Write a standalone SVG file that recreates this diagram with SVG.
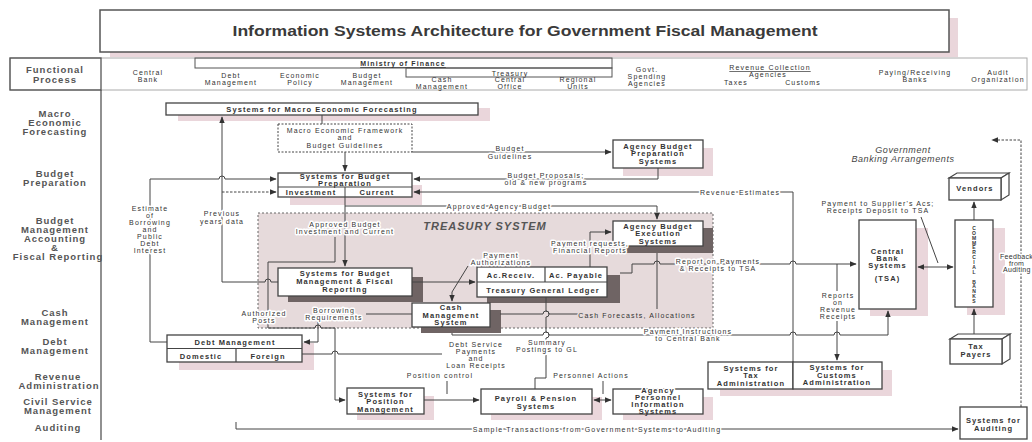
<svg xmlns="http://www.w3.org/2000/svg" width="1032" height="442" viewBox="0 0 1032 442">
<defs>
<marker id="ah" viewBox="0 0 10 10" refX="9" refY="5" markerWidth="7" markerHeight="7" markerUnits="userSpaceOnUse" orient="auto-start-reverse"><path d="M0,1 L10,5 L0,9 z" fill="#333"/></marker>
</defs>
<style>
.s{font-family:"Liberation Sans",Arial,sans-serif;font-size:7px;letter-spacing:1.15px;fill:#333;text-anchor:middle}
.b{font-family:"Liberation Sans",Arial,sans-serif;font-size:7.5px;font-weight:bold;letter-spacing:1.1px;fill:#333;text-anchor:middle}
.L{font-family:"Liberation Sans",Arial,sans-serif;font-size:9.5px;font-weight:bold;letter-spacing:1px;fill:#555;text-anchor:middle}
.k{stroke:#fff;stroke-width:3px;paint-order:stroke;stroke-linejoin:round}
.bx{fill:#fff;stroke:#444;stroke-width:1.3}
.pk{fill:#ead6db}
.dk{fill:#6f6464}
.c{fill:none;stroke:#444;stroke-width:1}
.a{marker-end:url(#ah)}
.ab{marker-start:url(#ah);marker-end:url(#ah)}
.d{stroke-dasharray:2.5 1.5}
.v{font-family:"Liberation Sans",Arial,sans-serif;font-size:5px;font-weight:bold;fill:#333;writing-mode:vertical-rl;text-orientation:upright}
</style>
<rect width="1032" height="442" fill="#fff"/>

<g id="title">
<rect x="110" y="18" width="848" height="39" class="pk"/>
<rect x="100" y="10" width="849" height="42" fill="#fff" stroke="#555" stroke-width="1.5"/>
<text x="525" y="36" font-family="Liberation Sans, Arial, sans-serif" font-size="14" font-weight="bold" fill="#3a3a3a" text-anchor="middle" textLength="585" lengthAdjust="spacingAndGlyphs">Information Systems Architecture for Government Fiscal  Management</text>
</g>

<g id="functional-row">
<rect x="10" y="58" width="1017" height="32" fill="none" stroke="#aaa" stroke-width="1"/>
<rect x="10" y="58" width="91" height="32" fill="none" stroke="#555" stroke-width="1.3"/>
<rect x="195" y="58" width="417" height="10" fill="none" stroke="#555" stroke-width="1"/>
<rect x="406" y="68" width="206" height="9" fill="none" stroke="#555" stroke-width="1"/>
<text class="L" x="55" y="73">Functional</text>
<text class="L" x="55" y="83">Process</text>
<text class="s" x="403" y="66" font-size="8.5" font-weight="bold" text-decoration="underline">Ministry of Finance</text>
<text class="s" x="510" y="75.5" font-size="8">Treasury</text>
<text class="s" x="148" y="75">Central</text><text class="s" x="148" y="82">Bank</text>
<text class="s" x="231" y="78">Debt</text><text class="s" x="231" y="85">Management</text>
<text class="s" x="300" y="78">Economic</text><text class="s" x="300" y="85">Policy</text>
<text class="s" x="367" y="78">Budget</text><text class="s" x="367" y="85">Management</text>
<text class="s" x="442" y="82">Cash</text><text class="s" x="442" y="89">Management</text>
<text class="s" x="510" y="82">Central</text><text class="s" x="510" y="89">Office</text>
<text class="s" x="578" y="82">Regional</text><text class="s" x="578" y="89">Units</text>
<text class="s" x="647" y="72">Govt.</text><text class="s" x="647" y="79">Spending</text><text class="s" x="647" y="86">Agencies</text>
<text class="s" x="770" y="70" text-decoration="underline">Revenue Collection</text>
<text class="s" x="768" y="77">Agencies</text>
<text class="s" x="736" y="85">Taxes</text><text class="s" x="803" y="85">Customs</text>
<text class="s" x="915" y="75">Paying/Receiving</text><text class="s" x="915" y="82">Banks</text>
<text class="s" x="998" y="75">Audit</text><text class="s" x="998" y="82">Organization</text>
</g>

<g id="row-labels">
<line x1="101" y1="90" x2="101" y2="440" stroke="#555" stroke-width="1.3"/>
<text class="L" x="55" y="116.5">Macro</text><text class="L" x="55" y="125.5">Economic</text><text class="L" x="55" y="134.5">Forecasting</text>
<text class="L" x="55" y="176.5">Budget</text><text class="L" x="55" y="185.5">Preparation</text>
<text class="L" x="55" y="224">Budget</text><text class="L" x="55" y="233">Management</text><text class="L" x="55" y="242">Accounting</text><text class="L" x="55" y="251">&amp;</text><text class="L" x="58" y="260">Fiscal Reporting</text>
<text class="L" x="55" y="315.5">Cash</text><text class="L" x="55" y="324.5">Management</text>
<text class="L" x="55" y="344.5">Debt</text><text class="L" x="55" y="353.5">Management</text>
<text class="L" x="58" y="380">Revenue</text><text class="L" x="59" y="389">Administration</text>
<text class="L" x="58" y="405">Civil Service</text><text class="L" x="58" y="414">Management</text>
<text class="L" x="58" y="430.5">Auditing</text>
</g>

<g id="treasury-system">
<rect x="258" y="213" width="455" height="115" fill="#e6dadb" stroke="#666" stroke-width="1" stroke-dasharray="2 2"/>
<text x="485" y="230" font-family="Liberation Sans, Arial, sans-serif" font-size="11" font-weight="bold" font-style="italic" letter-spacing="1" fill="#555" text-anchor="middle">TREASURY SYSTEM</text>
</g>

<g id="macro-forecasting">
<rect x="178" y="108" width="312" height="13" class="pk"/>
<rect x="166" y="103" width="312" height="12" class="bx"/>
<text class="b" x="322" y="112">Systems for Macro Economic Forecasting</text>
</g>

<g id="framework">
<rect x="278" y="124" width="134" height="28" fill="#fff" stroke="#444" stroke-width="1" stroke-dasharray="2 1.5"/>
<text class="s" x="345" y="132.5">Macro Economic Framework</text>
<text class="s" x="345" y="140">and</text>
<text class="s" x="345" y="147.5">Budget Guidelines</text>
</g>

<g id="budget-preparation">
<rect x="290" y="185" width="132" height="20" class="pk"/>
<rect x="278" y="173" width="134" height="24" class="bx"/>
<line x1="278" y1="187" x2="412" y2="187" stroke="#444"/>
<line x1="345" y1="187" x2="345" y2="197" stroke="#444"/>
<text class="b" x="345" y="179" font-size="6.5" letter-spacing="1.2">Systems for Budget</text>
<text class="b" x="345" y="186" font-size="6.5" letter-spacing="1.2">Preparation</text>
<text class="b" x="311" y="194.5" font-size="7">Investment</text>
<text class="b" x="377" y="194.5" font-size="7">Current</text>
</g>

<g id="agency-budget-prep">
<rect x="623" y="148" width="90" height="28" class="pk"/>
<rect x="613" y="140" width="90" height="28" class="bx"/>
<text class="b" x="658" y="148.5">Agency Budget</text>
<text class="b" x="658" y="156">Preparation</text>
<text class="b" x="658" y="163.5">Systems</text>
</g>

<g id="agency-budget-exec">
<rect x="623" y="228" width="90" height="25" class="dk"/>
<rect x="613" y="221" width="90" height="25" class="bx"/>
<text class="b" x="658" y="228.5">Agency Budget</text>
<text class="b" x="658" y="236">Execution</text>
<text class="b" x="658" y="243.5">Systems</text>
</g>

<g id="budget-management">
<rect x="288" y="277" width="135" height="25" class="dk"/>
<rect x="278" y="268" width="134" height="28" class="bx"/>
<text class="b" x="345" y="276">Systems for Budget</text>
<text class="b" x="345" y="284">Management &amp; Fiscal</text>
<text class="b" x="345" y="292">Reporting</text>
</g>

<g id="ledger">
<rect x="487" y="275" width="133" height="28" class="dk"/>
<rect x="477" y="267" width="130" height="30" class="bx"/>
<line x1="477" y1="282" x2="607" y2="282" stroke="#444" stroke-width="1.2"/>
<line x1="545" y1="267" x2="545" y2="282" stroke="#444" stroke-width="1.2"/>
<text class="b" x="511" y="278">Ac.Receiv.</text>
<text class="b" x="576" y="278">Ac. Payable</text>
<text class="b" x="543" y="293">Treasury General Ledger</text>
</g>

<g id="cash-management">
<rect x="421" y="310" width="80" height="23" class="dk"/>
<rect x="412" y="303" width="78" height="24" class="bx"/>
<text class="b" x="451" y="310">Cash</text>
<text class="b" x="451" y="317.5">Management</text>
<text class="b" x="451" y="325">System</text>
</g>

<g id="debt-management">
<rect x="179" y="343" width="135" height="27" class="pk"/>
<rect x="167" y="335" width="135" height="27" class="bx"/>
<line x1="167" y1="348.5" x2="302" y2="348.5" stroke="#444" stroke-width="1.2"/>
<line x1="236" y1="348.5" x2="236" y2="362" stroke="#444" stroke-width="1.2"/>
<text class="b" x="235" y="345">Debt Management</text>
<text class="b" x="201" y="358.5">Domestic</text>
<text class="b" x="268" y="358.5">Foreign</text>
</g>

<g id="position-management">
<rect x="357" y="396" width="77" height="24" class="pk"/>
<rect x="347" y="388" width="77" height="26" class="bx"/>
<text class="b" x="385.5" y="396.5">Systems for</text>
<text class="b" x="385.5" y="404">Position</text>
<text class="b" x="385.5" y="411.5">Management</text>
</g>

<g id="payroll">
<rect x="491" y="397" width="111" height="23" class="pk"/>
<rect x="481" y="389" width="111" height="25" class="bx"/>
<text class="b" x="536" y="401">Payroll &amp; Pension</text>
<text class="b" x="536" y="408.5">Systems</text>
</g>

<g id="agency-personnel">
<rect x="623" y="397" width="90" height="23" class="pk"/>
<rect x="613" y="389" width="90" height="25" class="bx"/>
<text class="b k" x="658" y="392.5">Agency</text>
<text class="b" x="658" y="399.5">Personnel</text>
<text class="b" x="658" y="406.5">Information</text>
<text class="b" x="658" y="413.5">Systems</text>
</g>

<g id="tax-customs">
<rect x="720" y="370" width="172" height="26" class="pk"/>
<rect x="708" y="362" width="85" height="27" class="bx"/>
<rect x="793" y="362" width="89" height="27" class="bx"/>
<text class="b" x="751" y="370.5">Systems for</text>
<text class="b" x="751" y="378">Tax</text>
<text class="b" x="751" y="385.5">Administration</text>
<text class="b" x="837" y="370">Systems for</text>
<text class="b" x="837" y="377.5">Customs</text>
<text class="b" x="837" y="385">Administration</text>
</g>

<g id="auditing">
<rect x="960" y="407" width="67" height="32" class="bx"/>
<text class="b" x="993.5" y="423">Systems for</text>
<text class="b" x="993.5" y="431">Auditing</text>
</g>

<g id="central-bank">
<rect x="870" y="228" width="58" height="88" class="pk"/>
<rect x="859" y="220" width="57" height="89" class="bx"/>
<text class="b" x="887.5" y="254">Central</text>
<text class="b" x="887.5" y="261">Bank</text>
<text class="b" x="887.5" y="268">Systems</text>
<text class="b" x="887.5" y="281">(TSA)</text>
</g>

<g id="commercial-banks">
<rect x="967" y="228" width="38" height="87" class="pk"/>
<rect x="955" y="220" width="38" height="87" class="bx"/>
<text class="v" x="974" y="225" textLength="79" lengthAdjust="spacing">COMMERCIAL BANKS</text>
</g>

<g id="vendors">
<polygon points="949,178 957,173 1009,173 1001,178" fill="#fff" stroke="#444" stroke-width="1.2"/>
<polygon points="1001,178 1009,173 1009,195 1001,200" fill="#fff" stroke="#444" stroke-width="1.2"/>
<rect x="949" y="178" width="52" height="22" class="bx"/>
<text class="b" x="975" y="191">Vendors</text>
</g>

<g id="tax-payers">
<polygon points="950,339 958,334 1010,334 1002,339" fill="#fff" stroke="#444" stroke-width="1.2"/>
<polygon points="1002,339 1010,334 1010,359 1002,364" fill="#fff" stroke="#444" stroke-width="1.2"/>
<rect x="950" y="339" width="52" height="25" class="bx"/>
<text class="b" x="976" y="348.5">Tax</text>
<text class="b" x="976" y="356.5">Payers</text>
</g>

<g id="banking-label">
<text x="903" y="153" font-family="Liberation Sans, Arial, sans-serif" font-size="9" font-style="italic" letter-spacing="0.6" fill="#444" text-anchor="middle">Government</text>
<text x="903" y="162" font-family="Liberation Sans, Arial, sans-serif" font-size="9" font-style="italic" letter-spacing="0.6" fill="#444" text-anchor="middle">Banking Arrangements</text>
</g>

<g id="connectors">
<path class="c" d="M322,115 V124"/>
<path class="c a" d="M345,152 V171"/>
<path class="c a" d="M412,152 H611"/>
<path class="c a" d="M658,168 V179 H414"/>
<path class="c a" d="M793,362 V192 H414"/>
<path class="c a" d="M345,197 V266"/>
<path class="c a" d="M345,206 H657 V219"/>
<path class="c a" d="M167,342 H150 V179 H219 a3,3 0 0 1 6,0 H276"/>
<path class="c a" d="M278,282 H271 a3,3 0 0 0 -6,0 H222 V117"/>
<path class="c a d" d="M222,192 H276"/>
<path class="c a" d="M335,237 V262 H268 V328 H315 a3,3 0 0 1 6,0 H335 V400 H345"/>
<path class="c a" d="M412,282 H475"/>
<path class="c a" d="M468,266 L452,292 V301"/>
<path class="c a" d="M590,267 V232 H611"/>
<path class="c" d="M500,314 H543 a3,3 0 0 1 6,0 H580"/>
<path class="c" d="M657,309 V253"/>
<path class="c" d="M412,314 H366"/>
<path class="c a" d="M318,322 V342 H304"/>
<path class="c" d="M302,354 H332 a3,3 0 0 1 6,0 H442"/>
<path class="c a" d="M452,333 V335 H543 a3,3 0 0 1 6,0 H790 a3,3 0 0 1 6,0 H834 a3,3 0 0 1 6,0 H888 V311"/>
<path class="c" d="M546,297 V311 a3,3 0 0 1 0,6 V332 a3,3 0 0 1 0,6 V340"/>
<path class="c" d="M546,355 V378 H535 V389"/>
<path class="c a" d="M620,273 H632 V264 H654 a3,3 0 0 1 6,0 H790 a3,3 0 0 1 6,0 H856"/>
<path class="c" d="M837,264 V291"/>
<path class="c a" d="M837,321 V360"/>
<path class="c ab" d="M918,267 H953"/>
<path class="c" d="M921,217 L938,263"/>
<path class="c a" d="M974,220 V202"/>
<path class="c a" d="M974,334 V309"/>
<path class="c a" d="M424,400 H479"/>
<path class="c" d="M447,381 V394"/>
<path class="c ab" d="M594,400 H611"/>
<path class="c" d="M603,381 V394"/>
<path class="c a" d="M236,422 V429 H958"/>
<path class="c a d" d="M1021,407 V140 H992"/>
</g>

<g id="connector-labels">
<text class="s k" x="510" y="151">Budget</text>
<text class="s k" x="510" y="158.5">Guidelines</text>
<text class="s k" x="546" y="178">Budget Proposals;</text>
<text class="s k" x="546" y="185">old &amp; new programs</text>
<text class="s k" x="740" y="194.5">Revenue Estimates</text>
<text class="s k" x="499" y="208.5">Approved Agency Budget</text>
<text class="s k" x="345" y="226.5">Approved Budget</text>
<text class="s k" x="345" y="234">Investment and Current</text>
<text class="s k" x="222" y="216">Previous</text>
<text class="s k" x="222" y="223.5">years data</text>
<text class="s k" x="150" y="210.5">Estimate</text>
<text class="s k" x="150" y="217.5">of</text>
<text class="s k" x="150" y="224.5">Borrowing</text>
<text class="s k" x="150" y="231.5">and</text>
<text class="s k" x="150" y="238.5">Public</text>
<text class="s k" x="150" y="245.5">Debt</text>
<text class="s k" x="150" y="252.5">Interest</text>
<text class="s k" x="501" y="257.5">Payment</text>
<text class="s k" x="501" y="264.5">Authorizations</text>
<text class="s k" x="590" y="245.5">Payment requests,</text>
<text class="s k" x="590" y="252.5">Financial Reports</text>
<text class="s k" x="718" y="263.5">Report on Payments</text>
<text class="s k" x="718" y="270.5">&amp; Receipts to TSA</text>
<text class="s k" x="264" y="315.5">Authorized</text>
<text class="s k" x="264" y="322.5">Posts</text>
<text class="s k" x="334" y="313">Borrowing</text>
<text class="s k" x="334" y="320">Requirements</text>
<text class="s k" x="637" y="317.5" style="stroke:#e6dadb">Cash Forecasts, Allocations</text>
<text class="s k" x="688" y="334">Payment Instructions</text>
<text class="s k" x="688" y="341">to Central Bank</text>
<text class="s k" x="476" y="346.5">Debt Service</text>
<text class="s k" x="476" y="353.5">Payments</text>
<text class="s k" x="476" y="360.5">and</text>
<text class="s k" x="476" y="367.5">Loan Receipts</text>
<text class="s k" x="547" y="344.5">Summary</text>
<text class="s k" x="547" y="351.5">Postings to GL</text>
<text class="s k" x="440" y="377.5">Position control</text>
<text class="s k" x="591" y="377.5">Personnel Actions</text>
<text class="s k" x="838" y="297.5">Reports</text>
<text class="s k" x="838" y="304.5">on</text>
<text class="s k" x="838" y="311.5">Revenue</text>
<text class="s k" x="838" y="318.5">Receipts</text>
<text class="s k" x="878" y="205.5">Payment to Supplier's Acs;</text>
<text class="s k" x="878" y="212.5">Receipts Deposit to TSA</text>
<text class="s k" x="597" y="431.5">Sample Transactions from Government Systems to Auditing</text>
<text class="s k" x="1000" y="259" font-size="6" style="text-anchor:start;letter-spacing:0.3px">Feedback</text>
<text class="s k" x="1009" y="265.5" font-size="6" style="text-anchor:start;letter-spacing:0.3px">from</text>
<text class="s k" x="1003" y="272" font-size="6" style="text-anchor:start;letter-spacing:0.3px">Auditing</text>
</g>
</svg>
